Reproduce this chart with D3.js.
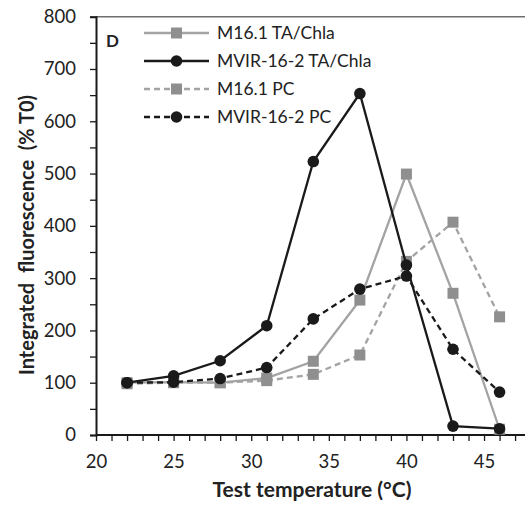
<!DOCTYPE html>
<html><head><meta charset="utf-8">
<script src="https://cdn.jsdelivr.net/npm/d3@7"></script>
<style>body{margin:0;background:#fff}svg{display:block}text{font-family:Lato,"Open Sans",sans-serif}</style>
</head><body>
<svg id="c" width="525" height="505"></svg>
<script>
const temps = [22, 25, 28, 31, 34, 37, 40, 43, 46];
const m161TA = [100, 101, 100, 109, 141, 258, 499, 271, 11];
const mvirTA = [100, 113, 142, 209, 523, 653, 325, 17, 12];
const m161PC = [98, 100, 100, 104, 116, 153, 332, 407, 226];
const mvirPC = [100, 101, 108, 129, 222, 279, 304, 164, 82];
const seriesNames = ["M16.1 TA/Chla", "MVIR-16-2 TA/Chla", "M16.1 PC", "MVIR-16-2 PC"];
const yTicks = [0, 100, 200, 300, 400, 500, 600, 700, 800];
const xTicks = [20, 25, 30, 35, 40, 45];

const series = [
  {name: seriesNames[0], values: m161TA, color: "#a3a3a3", mcolor: "#8f8f8f", dash: null, marker: "square"},
  {name: seriesNames[1], values: mvirTA, color: "#1a1a1a", mcolor: "#1a1a1a", dash: null, marker: "circle"},
  {name: seriesNames[2], values: m161PC, color: "#a3a3a3", mcolor: "#8f8f8f", dash: "6,4", marker: "square"},
  {name: seriesNames[3], values: mvirPC, color: "#1a1a1a", mcolor: "#1a1a1a", dash: "6,4", marker: "circle"}
];

const svg = d3.select("#c");
const x = d3.scaleLinear().domain([20, 48]).range([96, 530.6]);
const y = d3.scaleLinear().domain([0, 800]).range([435, 16.7]);

// top frame line
svg.append("line").attr("x1", 96).attr("x2", 525).attr("y1", y(800)).attr("y2", y(800))
  .attr("stroke", "#6e6e6e").attr("stroke-width", 1.5);

// y axis
const yAxis = svg.append("g").attr("transform", "translate(96,0)")
  .call(d3.axisLeft(y).tickValues(d3.range(0, 801, 50)).tickSize(6).tickFormat(d => yTicks.includes(d) ? d : ""));
yAxis.select(".domain").attr("stroke", "#1a1a1a").attr("stroke-width", 2);
yAxis.selectAll(".tick line").attr("stroke", "#1a1a1a").attr("stroke-width", 1.3);
yAxis.selectAll(".tick text").attr("font-size", 18.5).attr("fill", "#222").attr("x", -20);

// x axis
const xAxis = svg.append("g").attr("transform", `translate(0,${y(0)})`)
  .call(d3.axisBottom(x).tickValues(d3.range(20, 48, 1)).tickSize(6).tickFormat(d => xTicks.includes(d) ? d : ""));
xAxis.select(".domain").attr("stroke", "#1a1a1a").attr("stroke-width", 2).attr("d", `M96,0H525`);
xAxis.selectAll(".tick line").attr("stroke", "#1a1a1a").attr("stroke-width", 1.3);
xAxis.selectAll(".tick text").attr("font-size", 18.5).attr("fill", "#222").attr("y", 20);

// axis titles
svg.append("text").attr("x", 312).attr("y", 497).attr("text-anchor", "middle")
  .attr("font-size", 21).attr("font-weight", "bold").attr("fill", "#222")
  .text("Test temperature (°C)");
svg.append("text").attr("transform", "translate(34,235) rotate(-90)").attr("text-anchor", "middle")
  .attr("font-size", 20).attr("font-weight", "bold").attr("fill", "#222").attr("xml:space", "preserve")
  .text("Integrated  fluorescence  (% T0)");

svg.append("text").attr("x", 106).attr("y", 47).attr("font-size", 17).attr("font-weight", "bold")
  .attr("fill", "#222").text("D");

// series
const line = d3.line().x((d, i) => x(temps[i])).y(d => y(d));
function drawMarker(g, type, cx, cy, color) {
  if (type === "square") {
    g.append("rect").attr("x", cx - 5.5).attr("y", cy - 5.5).attr("width", 11).attr("height", 11).attr("fill", color);
  } else {
    g.append("circle").attr("cx", cx).attr("cy", cy).attr("r", 5.8).attr("fill", color);
  }
}
const drawOrder = [2, 0, 3, 1];
drawOrder.forEach(k => {
  const s = series[k];
  const g = svg.append("g");
  g.append("path").attr("d", line(s.values)).attr("fill", "none").attr("stroke", s.color)
    .attr("stroke-width", 2.3).attr("stroke-dasharray", s.dash);
  s.values.forEach((v, i) => drawMarker(g, s.marker, x(temps[i]), y(v), s.mcolor));
});

// legend
const legY = [33, 61, 89, 117];
series.forEach((s, k) => {
  const g = svg.append("g");
  g.append("line").attr("x1", 144).attr("x2", 209).attr("y1", legY[k]).attr("y2", legY[k])
    .attr("stroke", s.color).attr("stroke-width", 2.3).attr("stroke-dasharray", s.dash);
  drawMarker(g, s.marker, 176.5, legY[k], s.mcolor);
  g.append("text").attr("x", 217).attr("y", legY[k] + 6.3).attr("font-size", 17.5).attr("fill", "#222").text(s.name);
});
</script>
</body></html>
